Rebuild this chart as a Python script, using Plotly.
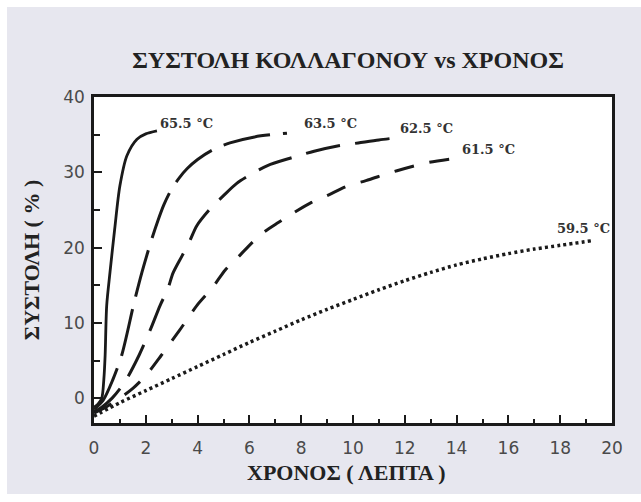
import plotly.graph_objects as go

# ---- data ----
t_655 = [0, 0.15, 0.3, 0.38, 0.43, 0.49, 0.62, 0.8, 1.0, 1.27, 1.66, 2.0, 2.43]
y_655 = [-1.2, -0.8, 0.0, 2.5, 5.7, 12.3, 16.8, 22.5, 28.2, 32.2, 34.4, 35.1, 35.5]

t_635 = [0, 0.35, 0.72, 1.07, 1.55, 1.85, 2.2, 2.47, 2.7, 3.0, 3.3, 3.6, 4.0, 4.6, 5.25, 6.2, 7.45]
y_635 = [-1.5, -0.3, 2.4, 5.7, 12.7, 16.7, 20.8, 23.6, 25.7, 27.8, 29.3, 30.5, 31.7, 33.0, 33.9, 34.7, 35.2]

t_625 = [0, 0.3, 0.7, 1.2, 1.74, 2.2, 2.55, 2.86, 3.05, 3.4, 3.7, 3.97, 4.5, 5.0, 5.5, 6.1, 6.7, 7.6, 8.5, 9.4, 10.2, 11.0, 11.74]
y_625 = [-1.8, -1.2, 0.0, 2.2, 5.7, 9.3, 12.3, 14.6, 16.6, 18.9, 20.9, 22.9, 25.2, 26.9, 28.5, 29.8, 30.9, 31.9, 32.8, 33.5, 33.9, 34.3, 34.6]

t_615 = [0, 0.5, 1.0, 1.5, 2.0, 2.6, 3.3, 3.97, 4.6, 5.06, 5.5, 6.0, 6.5, 7.1, 7.7, 8.4, 9.0, 9.8, 10.5, 11.4, 12.0, 12.9, 14.05]
y_615 = [-2.0, -1.1, 0.0, 1.3, 3.0, 5.7, 9.0, 12.3, 14.8, 17.0, 18.5, 20.3, 21.9, 23.3, 24.6, 26.0, 26.9, 28.2, 28.9, 29.9, 30.5, 31.3, 31.9]

t_595 = [0, 1, 2, 3, 4, 5, 6, 7, 8, 9, 10, 11, 12, 13, 14, 15, 16, 17, 18, 19.2]
y_595 = [-2.4, -0.6, 1.0, 2.6, 4.2, 5.8, 7.4, 8.9, 10.4, 11.8, 13.1, 14.4, 15.6, 16.7, 17.7, 18.5, 19.2, 19.8, 20.3, 20.9]

series_names = ["65.5 °C", "63.5 °C", "62.5 °C", "61.5 °C", "59.5 °C"]
label_x = [2.47, 8.03, 11.74, 14.13, 17.8]
label_y = [36.5, 36.5, 35.8, 33.0, 22.5]

x_ticks = [0, 2, 4, 6, 8, 10, 12, 14, 16, 18, 20]
y_ticks = [0, 10, 20, 30, 40]

title_text = "ΣΥΣΤΟΛΗ ΚΟΛΛΑΓΟΝΟΥ vs ΧΡΟΝΟΣ"
x_title = "ΧΡΟΝΟΣ ( ΛΕΠΤΑ )"
y_title = "ΣΥΣΤΟΛΗ ( % )"

# ---- figure ----
W, H = 641, 502
ML, MR, MT, MB = 94, 29, 97, 79
PW, PH = W - ML - MR, H - MT - MB
INK = "#1a1a1a"

curves = [(t_655, y_655, "solid", 2.8),
          (t_635, y_635, "48px,13px", 3.0),
          (t_625, y_625, "35px,15px", 3.0),
          (t_615, y_615, "20px,16px", 3.0),
          (t_595, y_595, "3px,3.2px", 3.5)]

fig = go.Figure()
for (tx, ty, dash, w), name in zip(curves, series_names):
    fig.add_trace(go.Scatter(x=tx, y=ty, mode="lines", name=name,
                             line=dict(color=INK, width=w, dash=dash, shape="spline", smoothing=0.8),
                             showlegend=False, hoverinfo="skip"))

for name, lx, ly in zip(series_names, label_x, label_y):
    fig.add_annotation(x=lx, y=ly, text=name, showarrow=False, xanchor="left", yanchor="middle",
                       font=dict(family="DejaVu Serif", size=13, color="#333333", weight="bold"))

tickfont = dict(family="DejaVu Sans", size=17, color="#4a4a4a")
titlefont = dict(family="Liberation Serif", size=22, color="#222222", weight="bold")

fig.update_xaxes(range=[0, 20], tickvals=x_ticks, ticks="inside", ticklen=8, tickwidth=2, tickcolor=INK,
                 showline=True, linecolor=INK, linewidth=2.5, mirror=True, showgrid=False, zeroline=False,
                 minor=dict(dtick=1, ticks="inside", ticklen=4, tickwidth=2, tickcolor=INK),
                 tickfont=tickfont, ticklabelstandoff=8)
fig.update_yaxes(range=[-3.3, 40], tickvals=y_ticks, ticks="inside", ticklen=8, tickwidth=2, tickcolor=INK,
                 showline=True, linecolor=INK, linewidth=2.5, mirror=True, showgrid=False, zeroline=False,
                 minor=dict(dtick=5, tick0=0, ticks="inside", ticklen=6, tickwidth=2, tickcolor=INK),
                 tickfont=tickfont, ticklabelstandoff=3,
                 title=dict(text=y_title, font=titlefont, standoff=18))

# x-axis title placed as in the reference
fig.add_annotation(xref="paper", yref="paper", x=(346 - ML) / PW, y=(H - MB - 472) / PH,
                   text=x_title, showarrow=False, xanchor="center", yanchor="middle", font=titlefont)

# white outer strips of the picture
for x0, y0, x1, y1 in [(0, 0, 7, H), (0, 0, W, 7), (0, 494, W, H)]:
    fig.add_shape(type="rect", xref="paper", yref="paper",
                  x0=(x0 - ML) / PW, x1=(x1 - ML) / PW,
                  y0=(H - MB - y0) / PH, y1=(H - MB - y1) / PH,
                  fillcolor="white", line=dict(width=0), layer="above")

fig.update_layout(width=W, height=H, margin=dict(l=ML, r=MR, t=MT, b=MB, autoexpand=False),
                  paper_bgcolor="#e7e7ef", plot_bgcolor="white",
                  title=dict(text=title_text, x=348 / W, xanchor="center", y=1 - 60 / H, yanchor="middle",
                             font=dict(family="Liberation Serif", size=24, color="#222222", weight="bold")))

fig.write_html("out.html", config={"displayModeBar": False},
               post_script="document.body.style.margin='0';")
